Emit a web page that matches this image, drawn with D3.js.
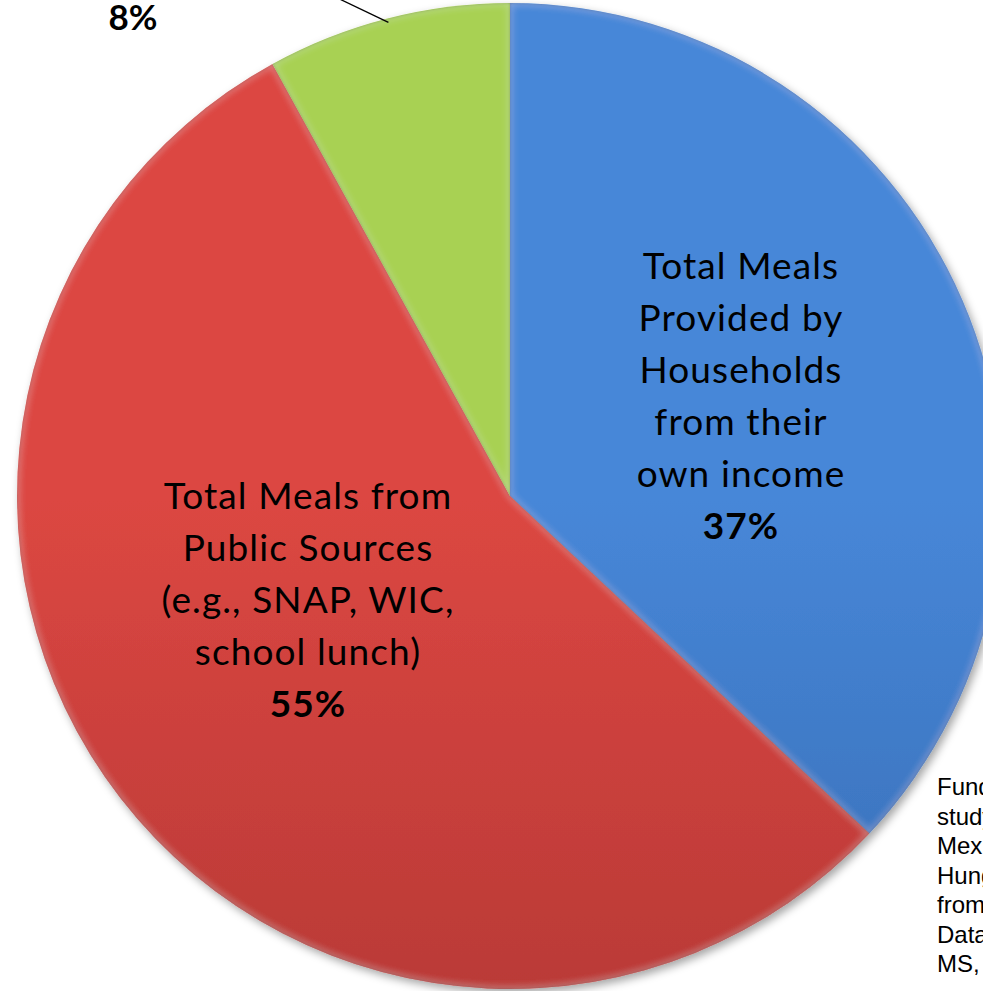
<!DOCTYPE html>
<html>
<head>
<meta charset="utf-8">
<script src="https://cdn.jsdelivr.net/npm/d3@7"></script>
<style>
  html, body { margin: 0; padding: 0; background: #ffffff; overflow: hidden; }
  svg { display: block; }
</style>
</head>
<body>
<svg id="chart" width="983" height="991"></svg>
<script>
// ---- data ----
const categories = [
  "Total Meals Provided by Households from their own income",
  "Total Meals from Public Sources (e.g., SNAP, WIC, school lunch)",
  "Other"
];
const values = [37, 55, 8];
const percentLabels = ["37%", "55%", "8%"];
const labelLines = [
  ["Total Meals", "Provided by", "Households", "from their", "own income"],
  ["Total Meals from", "Public Sources", "(e.g., SNAP, WIC,", "school lunch)"],
  []
];
const sourceLines = ["Funded", "study", "Mexico", "Hunger", "from", "Data", "MS,"];

// ---- styles ----
const gradTop = ["#4787d8", "#dc4742", "#a8d153"];
const gradBot = ["#2b5797", "#982d2b", "#8ab23b"];

const W = 983, H = 991;
const cx = 510, cy = 496, R = 493;

const svg = d3.select("#chart");
const defs = svg.append("defs");

categories.forEach((c, i) => {
  const g = defs.append("linearGradient")
    .attr("id", "grad" + i)
    .attr("gradientUnits", "userSpaceOnUse")
    .attr("x1", 0).attr("y1", cy - R).attr("x2", 0).attr("y2", cy + R);
  g.append("stop").attr("offset", "0%").attr("stop-color", gradTop[i]);
  g.append("stop").attr("offset", "100%").attr("stop-color", gradBot[i]);
});

// inner bevel-ish edge
const bevel = defs.append("filter").attr("id", "bevel")
  .attr("x", "-5%").attr("y", "-5%").attr("width", "110%").attr("height", "110%");
bevel.append("feGaussianBlur").attr("in", "SourceAlpha").attr("stdDeviation", 1.8).attr("result", "blur");
bevel.append("feComposite").attr("in", "SourceAlpha").attr("in2", "blur")
  .attr("operator", "arithmetic").attr("k2", 1).attr("k3", -1).attr("result", "edge");
bevel.append("feFlood").attr("flood-color", "#000").attr("flood-opacity", 0.5);
bevel.append("feComposite").attr("in2", "edge").attr("operator", "in").attr("result", "shadow");
bevel.append("feGaussianBlur").attr("in", "SourceAlpha").attr("stdDeviation", 5).attr("result", "blur2");
bevel.append("feComposite").attr("in", "SourceAlpha").attr("in2", "blur2")
  .attr("operator", "arithmetic").attr("k2", 1).attr("k3", -1).attr("result", "edge2");
bevel.append("feFlood").attr("flood-color", "#fff").attr("flood-opacity", 0.22);
bevel.append("feComposite").attr("in2", "edge2").attr("operator", "in").attr("result", "light");
const m = bevel.append("feMerge");
m.append("feMergeNode").attr("in", "SourceGraphic");
m.append("feMergeNode").attr("in", "light");
m.append("feMergeNode").attr("in", "shadow");

const drop = defs.append("filter").attr("id", "drop")
  .attr("x", "-10%").attr("y", "-10%").attr("width", "120%").attr("height", "120%");
drop.append("feDropShadow").attr("dx", 3).attr("dy", 4).attr("stdDeviation", 4)
  .attr("flood-color", "#000").attr("flood-opacity", 0.35);

const pie = d3.pie().sort(null).value(d => d)(values);
const arc = d3.arc().innerRadius(0).outerRadius(R);

const gPie = svg.append("g").attr("transform", `translate(${cx},${cy})`);
const shadowG = gPie.append("g").attr("filter", "url(#drop)");
shadowG.selectAll("path.slice")
  .data(pie)
  .join("path")
  .attr("class", "slice")
  .attr("d", arc)
  .attr("fill", (d, i) => `url(#grad${i})`)
  .attr("filter", "url(#bevel)");

// ---- labels ----
const font = "Lato, 'Open Sans', sans-serif";
const labelPos = [[741 - cx, 279 - cy], [308 - cx, 509 - cy]];
const lh = 52;
[0, 1].forEach(i => {
  const t = gPie.append("text")
    .attr("text-anchor", "middle")
    .attr("font-family", font)
    .attr("font-size", 37)
    .attr("letter-spacing", "1.1px")
    .attr("fill", "#000");
  labelLines[i].forEach((ln, k) => {
    t.append("tspan").attr("x", labelPos[i][0]).attr("y", labelPos[i][1] + k * lh).text(ln);
  });
  t.append("tspan").attr("x", labelPos[i][0]).attr("y", labelPos[i][1] + labelLines[i].length * lh)
    .attr("font-weight", "bold").text(percentLabels[i]);
});

// leader line for small slice
const green = pie[2];
const mid = (green.startAngle + green.endAngle) / 2;
const rs = R - 4;
const sx = rs * Math.sin(mid), sy = -rs * Math.cos(mid);
gPie.append("line")
  .attr("x1", sx).attr("y1", sy)
  .attr("x2", sx - 92).attr("y2", sy - 44)
  .attr("stroke", "#000").attr("stroke-width", 1.3);

svg.append("text")
  .attr("x", 133).attr("y", 30)
  .attr("text-anchor", "middle")
  .attr("font-family", font)
  .attr("font-weight", "bold")
  .attr("font-size", 35)
  .attr("fill", "#000")
  .text(percentLabels[2]);

// source note (cut off at right edge)
const src = svg.append("text")
  .attr("font-family", "Arial, 'Liberation Sans', sans-serif")
  .attr("font-size", 24)
  .attr("fill", "#000");
sourceLines.forEach((ln, k) => {
  src.append("tspan").attr("x", 937).attr("y", 795 + k * 29.5).text(ln);
});
</script>
</body>
</html>
